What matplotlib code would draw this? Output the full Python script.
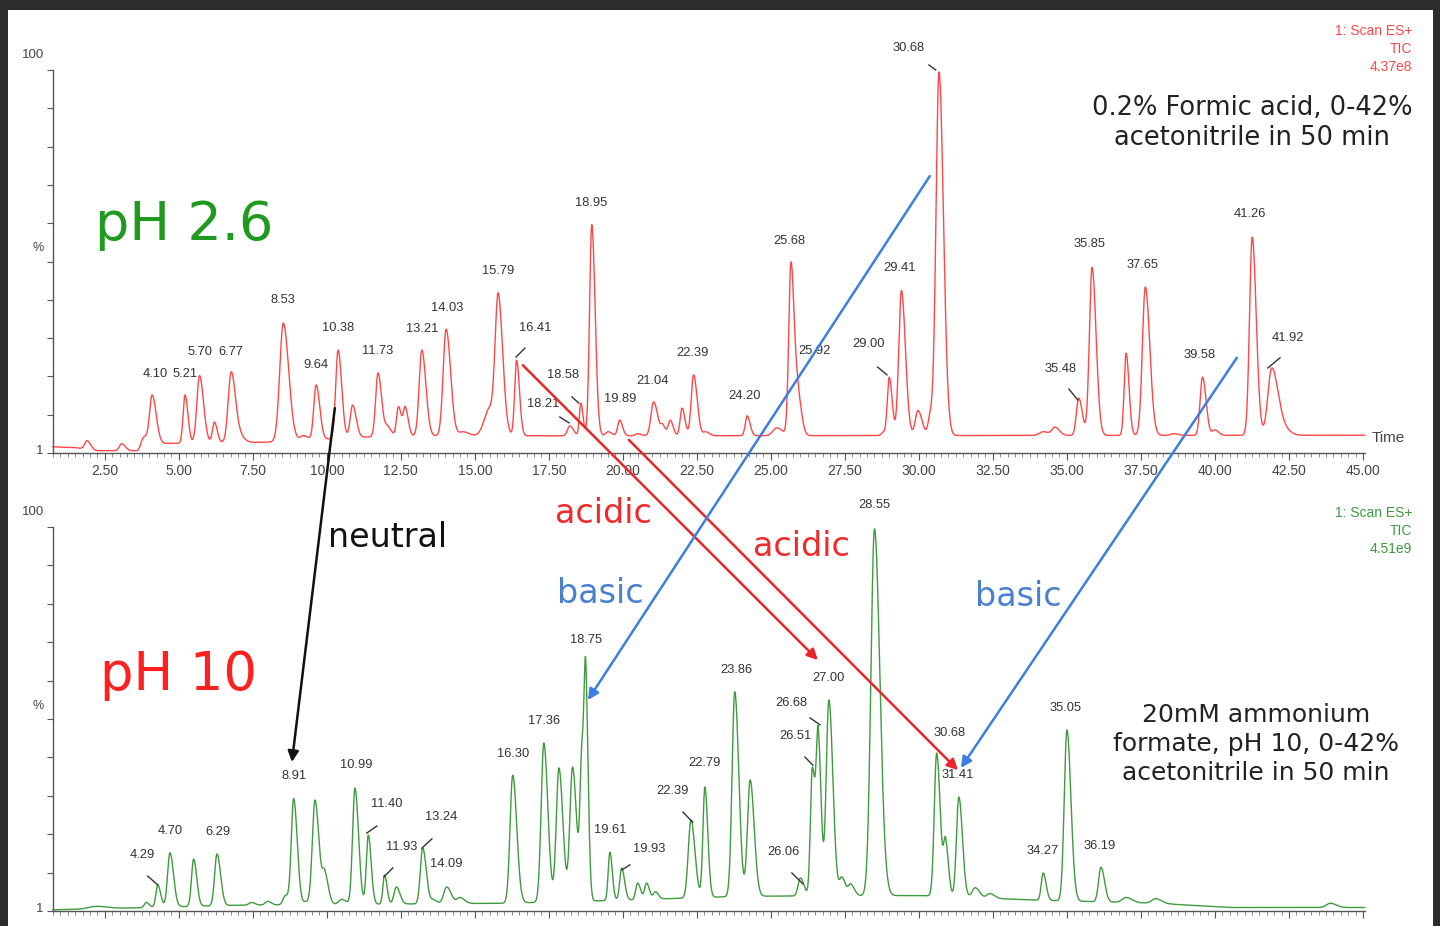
import matplotlib
matplotlib.use('Agg')
import matplotlib.pyplot as plt
from matplotlib.patches import Rectangle, ConnectionPatch
from matplotlib.ticker import MultipleLocator, FixedLocator, NullFormatter
import numpy as np

t_lo, t_hi = 0.75, 45.07  # time window shown (min)

# ---- pH 2.6 run (red): peak apex time, apex height (%), peak width (sigma, min)
top_t = [1.9, 3.07, 3.8, 4.10, 5.21, 5.70, 6.20, 6.77, 7.10, 8.53, 9.20, 9.64, 10.38, 10.87,
         11.73, 12.05, 12.42, 12.65, 13.21, 14.03, 14.60, 15.50, 15.79, 16.41, 17.00, 18.21,
         18.58, 18.95, 19.50, 19.89, 20.50, 21.04, 21.35, 21.60, 22.00, 22.39, 22.80, 24.20,
         25.20, 25.68, 25.92, 28.80, 29.00, 29.41, 29.97, 30.40, 30.68, 34.20, 34.60, 35.40,
         35.85, 37.00, 37.65, 38.60, 39.58, 40.00, 41.26, 41.92, 42.25]
top_h = [4.2, 3.4, 5.0, 16.0, 16.0, 21.0, 9.0, 22.0, 6.5, 34.6, 5.5, 18.6, 27.6, 13.4,
         21.7, 8.2, 13.0, 13.0, 27.6, 33.0, 6.5, 13.0, 42.4, 25.0, 5.5, 8.0,
         13.9, 60.0, 6.5, 9.5, 6.0, 14.2, 8.5, 9.5, 12.6, 21.2, 6.5, 10.6,
         7.5, 50.4, 19.4, 6.5, 20.6, 43.0, 12.0, 12.9, 99.5, 6.5, 7.7, 15.2,
         49.0, 26.8, 43.9, 6.0, 20.6, 7.0, 56.8, 23.0, 12.0]
top_w = [0.08, 0.08, 0.07, 0.09, 0.065, 0.09, 0.065, 0.10, 0.10, 0.12, 0.10, 0.08, 0.08, 0.08,
         0.08, 0.08, 0.065, 0.065, 0.09, 0.10, 0.13, 0.18, 0.10, 0.065, 0.13, 0.08,
         0.05, 0.075, 0.08, 0.065, 0.08, 0.09, 0.065, 0.065, 0.065, 0.08, 0.08, 0.065,
         0.13, 0.075, 0.08, 0.065, 0.065, 0.09, 0.09, 0.08, 0.10, 0.13, 0.10, 0.08,
         0.09, 0.065, 0.10, 0.10, 0.08, 0.08, 0.09, 0.13, 0.15]
top_base_t = [0.75, 1.5, 2.2, 3.6, 3.9, 8.0, 12.0, 45.07]
top_base_v = [2.6, 2.4, 1.6, 1.6, 3.4, 3.8, 5.4, 5.6]

top_labels = ['4.10', '5.21', '5.70', '6.77', '8.53', '9.64', '10.38', '11.73', '13.21', '14.03',
              '15.79', '16.41', '18.58', '18.21', '18.95', '19.89', '21.04', '22.39', '24.20',
              '25.68', '25.92', '29.00', '29.41', '30.68', '35.48', '35.85', '37.65', '39.58',
              '41.26', '41.92']
top_lab_t = [4.19, 5.20, 5.71, 6.76, 8.51, 9.63, 10.37, 11.72, 13.21, 14.05,
             15.78, 17.03, 17.97, 17.30, 18.92, 19.90, 21.01, 22.36, 24.12,
             25.64, 26.49, 28.31, 29.36, 29.66, 34.80, 35.78, 37.57, 39.49,
             41.18, 42.47]
top_lab_v = [21.4, 21.4, 27.1, 27.1, 40.6, 23.7, 33.3, 27.4, 33.1, 38.5,
             48.0, 33.3, 21.2, 13.7, 65.6, 15.0, 19.6, 26.9, 15.7,
             55.8, 27.4, 29.2, 48.8, 105.7, 22.7, 55.0, 49.6, 26.3,
             62.8, 30.7]
# short leader ticks: (t0, v0, t1, v1)
top_leaders = [(16.39, 25.8, 16.69, 28.1), (17.87, 10.3, 18.18, 8.8), (18.28, 15.5, 18.51, 13.9),
               (28.61, 23.2, 28.92, 21.2), (30.34, 101.3, 30.57, 100.0), (35.07, 17.5, 35.37, 14.7),
               (41.79, 23.0, 42.20, 25.6)]

# ---- pH 10 run (green)
bot_t = [2.2, 3.9, 4.29, 4.70, 5.50, 6.29, 7.45, 8.00, 8.60, 8.88, 9.30, 9.60, 9.93, 10.50,
         10.95, 11.40, 11.95, 12.35, 13.24, 13.60, 14.05, 14.50, 16.28, 17.33, 17.84, 18.30,
         18.62, 18.75, 19.56, 19.96, 20.50, 20.80, 21.10, 22.30, 22.77, 23.78, 24.30, 26.00,
         26.40, 26.60, 26.96, 27.40, 27.70, 28.50, 30.60, 30.90, 31.35, 31.90, 32.40, 34.20,
         35.00, 36.15, 37.00, 38.00, 43.90]
bot_h = [2.2, 3.2, 7.7, 16.0, 14.4, 15.7, 3.2, 3.5, 5.0, 30.0, 3.5, 29.6, 11.6, 4.0,
         32.7, 20.6, 10.3, 7.2, 17.2, 4.0, 7.2, 4.5, 36.0, 44.3, 37.9, 38.1,
         45.0, 65.2, 16.2, 12.1, 8.2, 8.2, 6.0, 24.5, 33.0, 57.5, 34.8, 9.5,
         38.1, 48.4, 55.4, 9.8, 8.0, 99.5, 41.7, 20.0, 30.4, 7.0, 5.5, 10.8,
         47.7, 12.3, 4.5, 4.2, 3.0]
bot_w = [0.25, 0.065, 0.065, 0.08, 0.07, 0.08, 0.08, 0.08, 0.08, 0.08, 0.08, 0.09, 0.08, 0.10,
         0.08, 0.065, 0.055, 0.08, 0.08, 0.08, 0.10, 0.10, 0.09, 0.09, 0.09, 0.09,
         0.065, 0.055, 0.055, 0.065, 0.065, 0.065, 0.065, 0.09, 0.065, 0.09, 0.09, 0.08,
         0.065, 0.065, 0.09, 0.08, 0.08, 0.12, 0.08, 0.065, 0.08, 0.10, 0.10, 0.065,
         0.09, 0.08, 0.13, 0.13, 0.13]
bot_base_t = [0.75, 3.5, 7.0, 16.0, 20.0, 24.0, 30.0, 34.0, 38.0, 40.5, 45.07]
bot_base_v = [1.3, 1.8, 2.5, 3.0, 3.8, 4.8, 5.0, 3.8, 3.0, 1.9, 1.9]

bot_labels = ['4.29', '4.70', '6.29', '8.91', '10.99', '11.40', '11.93', '13.24', '14.09', '16.30',
              '17.36', '18.75', '19.61', '19.93', '22.39', '22.79', '23.86', '26.06', '26.68',
              '26.51', '27.00', '28.55', '30.68', '31.41', '34.27', '35.05', '36.19']
bot_lab_t = [3.78, 4.70, 6.32, 8.89, 10.98, 12.03, 12.53, 13.85, 14.05, 16.28,
             17.33, 18.75, 19.56, 20.88, 21.69, 22.77, 23.82, 25.41, 25.68,
             25.84, 26.96, 28.48, 31.05, 31.32, 34.19, 34.97, 36.11]
bot_lab_v = [15.4, 21.6, 21.4, 35.8, 38.6, 28.6, 17.5, 25.2, 13.1, 41.5,
             50.0, 70.9, 21.9, 17.0, 31.9, 39.2, 63.1, 16.2, 54.6,
             46.1, 61.1, 105.7, 46.9, 36.1, 16.5, 53.3, 17.8]
bot_leaders = [(3.95, 10.0, 4.29, 7.7), (11.35, 21.1, 11.69, 22.9), (11.93, 9.8, 12.23, 12.1),
               (13.21, 17.2, 13.55, 19.6), (19.97, 11.6, 20.24, 12.9), (22.03, 26.5, 22.36, 23.9),
               (25.71, 10.8, 26.08, 8.0), (26.15, 40.7, 26.42, 38.6), (26.32, 50.8, 26.66, 49.0)]

# ---- retention shift arrows: start (time, % on pH 2.6) -> end (time, % on pH 10)
arrow_from_t = [10.27, 16.62, 20.20, 30.37, 40.74]
arrow_from_v = [12.6, 23.7, 4.4, 72.6, 25.6]
arrow_to_t = [8.82, 26.59, 31.32, 18.82, 31.42]
arrow_to_v = [39.4, 65.7, 37.3, 55.4, 37.9]
arrow_col = ['#111111', '#e8262b', '#e8262b', '#3d7ee0', '#3d7ee0']

RED = '#ff4747'
GREEN = '#3f9b3f'
GRAY = '#444444'
TAIL = 1.5  # peaks tail: right side a bit wider than left


def peak_shape(t, t0, w):
    s = np.where(t < t0, w, w * TAIL)
    return np.exp(-0.5 * ((t - t0) / s) ** 2)


def build_trace(tt, base_t, base_v, pk_t, pk_h, pk_w):
    pk_t = np.asarray(pk_t)
    pk_w = np.asarray(pk_w)
    base = np.interp(tt, base_t, base_v)
    # solve for amplitudes so each apex sits at its read height
    G = peak_shape(pk_t[:, None], pk_t[None, :], pk_w[None, :])
    amp = np.linalg.solve(G, np.asarray(pk_h) - np.interp(pk_t, base_t, base_v))
    amp = np.clip(amp, 0, None)
    return base + (amp[None, :] * peak_shape(tt[:, None], pk_t[None, :], pk_w[None, :])).sum(1)


fig = plt.figure(figsize=(14.4, 9.26), dpi=100)
fig.patch.set_facecolor('#2c2c2c')
fig.add_artist(Rectangle((8 / 1440, 0), 1425 / 1440, 916 / 926, transform=fig.transFigure,
                         facecolor='white', edgecolor='none', zorder=-5))

ax1 = fig.add_axes([53 / 1440, 473 / 926, 1312 / 1440, 383 / 926])
ax2 = fig.add_axes([53 / 1440, 15 / 926, 1312 / 1440, 384 / 926])

tt = np.arange(t_lo, t_hi, 0.01)
ax1.plot(tt, build_trace(tt, top_base_t, top_base_v, top_t, top_h, top_w), color=RED, lw=1.0, clip_on=False)
ax2.plot(tt, build_trace(tt, bot_base_t, bot_base_v, bot_t, bot_h, bot_w), color=GREEN, lw=1.0, clip_on=False)

for ax in (ax1, ax2):
    ax.set_facecolor('none')
    ax.set_xlim(t_lo, t_hi)
    ax.set_ylim(1, 100)
    for s in ('top', 'right'):
        ax.spines[s].set_visible(False)
    for s in ('left', 'bottom'):
        ax.spines[s].set_color('#555555')
        ax.spines[s].set_linewidth(1.0)
    ax.xaxis.set_major_locator(FixedLocator(np.arange(2.5, 45.01, 2.5)))
    ax.xaxis.set_minor_locator(MultipleLocator(0.25))
    ax.yaxis.set_major_locator(FixedLocator(np.linspace(1, 100, 11)))
    ax.yaxis.set_major_formatter(NullFormatter())
    ax.tick_params(axis='x', which='major', direction='out', length=5, width=0.8, color='#555555',
                   labelsize=10, labelcolor=GRAY, pad=3)
    ax.tick_params(axis='x', which='minor', direction='out', length=3, width=0.6, color='#777777')
    ax.tick_params(axis='y', direction='out', length=4, width=0.8, color='#555555')
    ax.text(-0.015, 1.039, '100', transform=ax.transAxes, ha='center', va='center',
            fontsize=9.5, color=GRAY, family='Liberation Sans')
    ax.text(-0.010, 0.006, '1', transform=ax.transAxes, ha='center', va='center',
            fontsize=9.5, color=GRAY, family='Liberation Sans')
    ax.text(-0.0115, 0.535, '%', transform=ax.transAxes, ha='center', va='center',
            fontsize=9, color=GRAY, family='Liberation Sans')

ax1.set_xticklabels(['%.2f' % v for v in np.arange(2.5, 45.01, 2.5)], family='Liberation Sans')
ax2.tick_params(axis='x', labelbottom=False)
ax1.text(1.005, 0.039, 'Time', transform=ax1.transAxes, ha='left', va='center',
         fontsize=11, color=GRAY, family='Liberation Sans')

# peak labels and leader ticks
for ax, labs, lt, lv, leaders in ((ax1, top_labels, top_lab_t, top_lab_v, top_leaders),
                                  (ax2, bot_labels, bot_lab_t, bot_lab_v, bot_leaders)):
    for s, x, y in zip(labs, lt, lv):
        ax.text(x, y, s, ha='center', va='center', fontsize=9.3, color='#333333',
                family='Liberation Sans', clip_on=False)
    for x0, y0, x1, y1 in leaders:
        ax.plot([x0, x1], [y0, y1], color='#333333', lw=1.0, clip_on=False)

# instrument headers
ax1.text(1.036, 1.120, '1: Scan ES+\nTIC\n4.37e8', transform=ax1.transAxes, ha='right', va='top',
         fontsize=10, color=RED, family='Liberation Sans', linespacing=1.35)
ax2.text(1.036, 1.054, '1: Scan ES+\nTIC\n4.51e9', transform=ax2.transAxes, ha='right', va='top',
         fontsize=10, color=GREEN, family='Liberation Sans', linespacing=1.35)

# big annotations
ax1.text(0.032, 0.556, 'pH 2.6', transform=ax1.transAxes, ha='left', va='baseline',
         fontsize=39, color='#1e9a1e')
ax2.text(0.036, 0.576, 'pH 10', transform=ax2.transAxes, ha='left', va='baseline',
         fontsize=38, color='#ff2020')
ax1.text(0.914, 0.862, '0.2% Formic acid, 0-42%\nacetonitrile in 50 min', transform=ax1.transAxes,
         ha='center', va='center', fontsize=18.5, color='#222222', linespacing=1.2)
ax2.text(0.917, 0.435, '20mM ammonium\nformate, pH 10, 0-42%\nacetonitrile in 50 min',
         transform=ax2.transAxes, ha='center', va='center', fontsize=18, color='#222222',
         linespacing=1.25)
ax2.text(0.2096, 0.948, 'neutral', transform=ax2.transAxes, ha='left', va='baseline',
         fontsize=24, color='#111111')
ax2.text(0.3826, 1.010, 'acidic', transform=ax2.transAxes, ha='left', va='baseline',
         fontsize=24, color='#ee2b2b')
ax2.text(0.5335, 0.924, 'acidic', transform=ax2.transAxes, ha='left', va='baseline',
         fontsize=24, color='#ee2b2b')
ax2.text(0.384, 0.802, 'basic', transform=ax2.transAxes, ha='left', va='baseline',
         fontsize=24, color='#4a80d0')
ax2.text(0.7027, 0.794, 'basic', transform=ax2.transAxes, ha='left', va='baseline',
         fontsize=24, color='#4a80d0')

# retention shift arrows between the two runs
for x0, y0, x1, y1, c in zip(arrow_from_t, arrow_from_v, arrow_to_t, arrow_to_v, arrow_col):
    con = ConnectionPatch(xyA=(x0, y0), coordsA=ax1.transData, xyB=(x1, y1), coordsB=ax2.transData,
                          arrowstyle='-|>', mutation_scale=16, color=c, lw=1.8,
                          shrinkA=0, shrinkB=0)
    fig.add_artist(con)

fig.savefig('out.png', dpi=100, facecolor=fig.get_facecolor())
